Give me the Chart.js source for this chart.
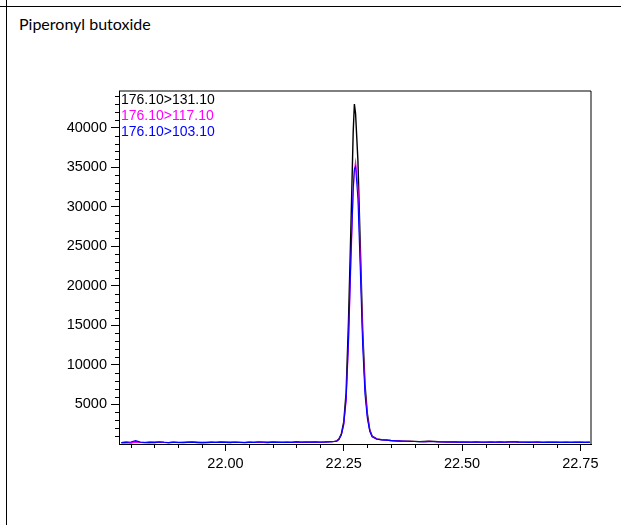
<!DOCTYPE html>
<html>
<head>
<meta charset="utf-8">
<script src="https://cdn.jsdelivr.net/npm/chart.js@4/dist/chart.umd.min.js"></script>
<style>
  html, body { margin: 0; padding: 0; background: #fff; }
  #wrap { position: relative; width: 621px; height: 525px; overflow: hidden; background: #fff; }
  #hline { position: absolute; left: 0; top: 6px; width: 621px; height: 1px; background: #000; }
  #vline { position: absolute; left: 6px; top: 0; width: 1px; height: 525px; background: #000; }
  #title { position: absolute; left: 19px; top: 14px; font-family: Lato, "Open Sans", sans-serif; font-size: 16px; line-height: 20px; color: #000; }
  canvas { position: absolute; left: 0; top: 0; }
</style>
</head>
<body>
<div id="wrap">
  <div id="hline"></div>
  <div id="vline"></div>
  <div id="title">Piperonyl butoxide</div>
  <canvas id="c" width="621" height="525"></canvas>
</div>
<script>
// Retention times (min)
const times = [
  21.78,21.79,21.80,21.81,21.82,21.83,21.84,21.85,21.86,21.87,
  21.88,21.89,21.90,21.91,21.92,21.93,21.94,21.95,21.96,21.97,
  21.98,21.99,22.00,22.01,22.02,22.03,22.04,22.05,22.06,22.07,
  22.08,22.09,22.10,22.11,22.12,22.13,22.14,22.15,22.16,22.17,
  22.18,22.19,22.20,22.21,22.22,
  22.225,22.23,22.235,22.24,22.245,22.25,22.255,22.26,22.265,22.27,
  22.2725,22.275,22.28,22.285,22.29,22.295,22.30,22.305,22.31,
  22.32,22.33,22.34,22.35,22.36,22.37,22.38,22.39,22.40,22.41,
  22.42,22.43,22.44,22.45,22.46,22.47,22.48,22.49,22.50,22.51,
  22.52,22.53,22.54,22.55,22.56,22.57,22.58,22.59,22.60,22.61,
  22.62,22.63,22.64,22.65,22.66,22.67,22.68,22.69,22.70,22.71,
  22.72,22.73,22.74,22.75,22.76,22.77
];

// 176.10>131.10 (black)
const trace131 = [
  180,220,160,250,200,170,230,190,260,210,
  180,240,200,170,220,250,190,210,180,230,
  200,260,220,190,240,210,180,230,200,250,
  220,190,260,230,200,240,210,280,230,250,
  220,270,240,260,300,
  300,330,380,650,1300,2800,6500,15500,27000,39500,
  43000,41800,35800,25000,14500,7500,3800,1800,1000,
  650,560,500,450,420,380,360,340,330,300,
  320,350,330,290,270,260,280,250,240,260,
  230,250,240,220,250,230,260,240,280,300,
  260,240,220,230,250,210,230,220,240,210,
  230,200,220,240,210,230
];

// 176.10>117.10 (magenta)
const trace117 = [
  160,200,180,230,190,210,180,220,240,200,
  190,230,180,200,210,240,200,190,210,220,
  190,240,210,200,230,190,200,220,190,240,
  210,200,240,220,210,230,200,260,220,240,
  230,250,230,250,280,
  290,320,360,600,1150,2400,5400,12500,22500,31800,
  34600,35700,32500,23500,13500,6800,3400,1700,950,
  620,540,480,440,400,370,350,330,320,310,
  300,330,310,280,260,250,270,240,250,240,
  230,240,230,220,240,220,250,240,270,280,
  250,230,220,220,240,210,220,210,230,210,
  220,200,210,230,210,220
];

// 176.10>103.10 (blue)
const trace103 = [
  170,210,260,420,240,190,200,210,230,220,
  180,210,190,210,200,230,210,180,200,230,
  200,230,200,210,220,200,190,210,200,230,
  220,210,230,210,200,220,210,250,230,230,
  240,240,220,260,270,
  280,310,350,580,1150,2500,5700,13000,23500,32300,
  34800,35100,31000,22000,12500,6200,3200,1600,900,
  600,520,470,430,390,360,340,320,310,300,
  290,320,300,280,260,250,260,240,240,230,
  220,240,230,220,230,220,240,230,260,270,
  240,230,210,220,230,210,220,210,220,200,
  210,200,210,220,200,210
];

const seriesLabels = ['176.10>131.10', '176.10>117.10', '176.10>103.10'];
const seriesColors = ['#000000', '#ff00ff', '#0000ff'];
const xTickValues = [22.00, 22.25, 22.50, 22.75];
const yTickValues = [5000, 10000, 15000, 20000, 25000, 30000, 35000, 40000];

const toPoints = arr => times.map((t, i) => ({ x: t, y: arr[i] }));

Chart.defaults.font.family = '"Liberation Sans", Arial, sans-serif';
Chart.defaults.color = '#000';

const framePlugin = {
  id: 'frame',
  afterDraw(chart) {
    const ctx = chart.ctx;
    const a = chart.chartArea;
    const xs = chart.scales.x, ys = chart.scales.y;
    ctx.save();
    ctx.strokeStyle = '#000';
    ctx.lineWidth = 1;
    ctx.beginPath();
    ctx.moveTo(a.left, a.top);
    ctx.lineTo(a.right, a.top);
    ctx.lineTo(a.right, a.bottom);
    ctx.stroke();
    ctx.beginPath();
    for (let v = 1000; v < ys.max; v += 1000) {
      if (v % 5000 === 0) continue;
      const py = Math.round(ys.getPixelForValue(v)) + 0.5;
      ctx.moveTo(a.left - 4, py);
      ctx.lineTo(a.left, py);
    }
    for (let h = 2180; h <= 2277; h += 5) {
      if (h % 25 === 0) continue;
      const px = Math.round(xs.getPixelForValue(h / 100)) + 0.5;
      ctx.moveTo(px, a.bottom);
      ctx.lineTo(px, a.bottom + 4);
    }
    ctx.stroke();
    ctx.font = '14px "Liberation Sans", Arial, sans-serif';
    ctx.textBaseline = 'alphabetic';
    ctx.textAlign = 'left';
    chart.data.datasets.slice().sort((p, q) => p.legendIndex - q.legendIndex).forEach((ds, i) => {
      ctx.fillStyle = ds.borderColor;
      ctx.fillText(ds.label, a.left + 2, a.top + 13 + i * 16);
    });
    ctx.restore();
  }
};

new Chart(document.getElementById('c'), {
  type: 'line',
  data: {
    datasets: [
      { label: seriesLabels[0], data: toPoints(trace131), borderColor: seriesColors[0], borderWidth: 1.4, order: 2, legendIndex: 0 },
      { label: seriesLabels[1], data: toPoints(trace117), borderColor: seriesColors[1], borderWidth: 1.1, order: 1, legendIndex: 1 },
      { label: seriesLabels[2], data: toPoints(trace103), borderColor: seriesColors[2], borderWidth: 1.1, order: 0, legendIndex: 2 }
    ]
  },
  options: {
    responsive: false,
    animation: false,
    events: [],
    elements: { point: { radius: 0 }, line: { tension: 0, fill: false } },
    layout: { padding: { left: 0, top: 91, right: 30, bottom: 51 } },
    plugins: { legend: { display: false }, tooltip: { enabled: false }, title: { display: false } },
    scales: {
      x: {
        type: 'linear',
        min: 21.775,
        max: 22.7726,
        afterBuildTicks: s => { s.ticks = xTickValues.map(v => ({ value: v })); },
        afterFit: s => { s.height = 30; },
        ticks: { autoSkip: false, maxRotation: 0, padding: 4, font: { size: 14.5 }, color: '#000',
                 callback: v => Number(v).toFixed(2) },
        grid: { drawOnChartArea: false, drawTicks: true, tickLength: 7, tickColor: '#000' },
        border: { display: true, color: '#000', width: 1 }
      },
      y: {
        type: 'linear',
        min: 0,
        max: 44650,
        afterBuildTicks: s => { s.ticks = yTickValues.map(v => ({ value: v })); },
        afterFit: s => { s.width = 119; },
        ticks: { autoSkip: false, padding: 4, font: { size: 14.5 }, color: '#000',
                 callback: v => String(v) },
        grid: { drawOnChartArea: false, drawTicks: true, tickLength: 8, tickColor: '#000' },
        border: { display: true, color: '#000', width: 1 }
      }
    }
  },
  plugins: [framePlugin]
});
</script>
</body>
</html>
